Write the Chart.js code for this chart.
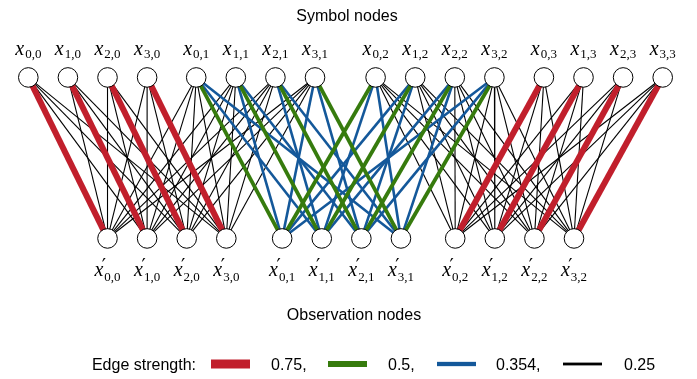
<!DOCTYPE html>
<html>
<head>
<meta charset="utf-8">
<script src="https://cdn.jsdelivr.net/npm/chart.js@4.4.1/dist/chart.umd.min.js"></script>
<style>
  html, body { margin: 0; padding: 0; background: #fff; }
  #wrap { width: 697px; height: 379px; }
</style>
</head>
<body>
<div id="wrap"><canvas id="graph" width="697" height="379"></canvas></div>
<script>
// where each group of 4 nodes starts, in units of node spacing
const symbolGroupStart = [0, 4.24, 8.77, 13.02];
const observationGroupStart = [2, 6.41, 10.78];
const nodesPerGroup = 4;

// edge weights: rows = symbol node i, columns = observation node k (0 = no edge)
const weightsS0O0 = [
  [0.75, 0.25, 0.25, 0.25],
  [0.25, 0.75, 0.25, 0.25],
  [0.25, 0.25, 0.75, 0.25],
  [0.25, 0.25, 0.25, 0.75]
];
const weightsS1O0 = [
  [0.25, 0.25, 0.25, 0.25],
  [0.25, 0.25, 0.25, 0.25],
  [0.25, 0.25, 0.25, 0.25],
  [0.25, 0.25, 0.25, 0.25]
];
const weightsS1O1 = [
  [0.5, 0.354, 0, 0.354],
  [0.354, 0.5, 0.354, 0],
  [0, 0.354, 0.5, 0.354],
  [0.354, 0, 0.354, 0.5]
];
const weightsS2O1 = [
  [0.5, 0.354, 0, 0.354],
  [0.354, 0.5, 0.354, 0],
  [0, 0.354, 0.5, 0.354],
  [0.354, 0, 0.354, 0.5]
];
const weightsS2O2 = [
  [0.25, 0.25, 0.25, 0.25],
  [0.25, 0.25, 0.25, 0.25],
  [0.25, 0.25, 0.25, 0.25],
  [0.25, 0.25, 0.25, 0.25]
];
const weightsS3O2 = [
  [0.75, 0.25, 0.25, 0.25],
  [0.25, 0.75, 0.25, 0.25],
  [0.25, 0.25, 0.75, 0.25],
  [0.25, 0.25, 0.25, 0.75]
];

const strengthLevels = [0.75, 0.5, 0.354, 0.25];
const strengthLabels = ["0.75,", "0.5,", "0.354,", "0.25"];
const strengthColors = ["#c11f2c", "#367b0d", "#14589a", "#000000"];
const strengthWidths = [6, 3.8, 2.6, 1.1];
const legendSwatchHeights = [9, 6, 4.3, 2.8];

// [symbol group, observation group, weights]
const edgeBlocks = [
  [0, 0, weightsS0O0],
  [1, 0, weightsS1O0],
  [1, 1, weightsS1O1],
  [2, 1, weightsS2O1],
  [2, 2, weightsS2O2],
  [3, 2, weightsS3O2]
];

const SYMBOL_ROW = 1;
const OBS_ROW = 0;

function symbolX(group, i) { return symbolGroupStart[group] + i; }
function obsX(group, k) { return observationGroupStart[group] + k; }

// build one line dataset per edge
const datasets = [];
edgeBlocks.forEach(([sg, og, w]) => {
  for (let i = 0; i < nodesPerGroup; i++) {
    for (let k = 0; k < nodesPerGroup; k++) {
      const level = strengthLevels.indexOf(w[i][k]);
      if (level < 0) continue;
      datasets.push({
        data: [{ x: symbolX(sg, i), y: SYMBOL_ROW }, { x: obsX(og, k), y: OBS_ROW }],
        showLine: true,
        borderColor: strengthColors[level],
        borderWidth: strengthWidths[level],
        pointRadius: 0,
        order: level + 1
      });
    }
  }
});

// nodes on top of the edges
const nodePoints = [];
symbolGroupStart.forEach((s, g) => {
  for (let i = 0; i < nodesPerGroup; i++) nodePoints.push({ x: symbolX(g, i), y: SYMBOL_ROW });
});
observationGroupStart.forEach((s, g) => {
  for (let k = 0; k < nodesPerGroup; k++) nodePoints.push({ x: obsX(g, k), y: OBS_ROW });
});
datasets.push({
  data: nodePoints,
  showLine: false,
  pointRadius: 9.8,
  pointBackgroundColor: "#ffffff",
  pointBorderColor: "#000000",
  pointBorderWidth: 1,
  order: 0
});

const mathFont = "'Liberation Serif', 'DejaVu Serif', serif";
const textFont = "'Liberation Sans', Arial, sans-serif";

function drawMathLabel(ctx, cx, baseY, sub, prime) {
  ctx.font = "italic 20px " + mathFont;
  const wx = ctx.measureText("x").width;
  ctx.font = "13px " + mathFont;
  const ws = ctx.measureText(sub).width;
  const left = cx - (wx + 1 + ws) / 2;
  ctx.font = "italic 20px " + mathFont;
  ctx.fillText("x", left, baseY);
  ctx.font = "13px " + mathFont;
  if (prime) {
    ctx.fillText(sub, left + wx + 1, baseY + 5);
    ctx.font = "19px 'DejaVu Serif', serif";
    ctx.fillText("\u2032", left + wx - 1.5, baseY - 4);
  } else {
    ctx.fillText(sub, left + wx + 1, baseY + 3);
  }
}

const labelPlugin = {
  id: "graphText",
  afterDatasetsDraw(chart) {
    const ctx = chart.ctx;
    const xs = chart.scales.x, ys = chart.scales.y;
    ctx.save();
    ctx.fillStyle = "#000";
    ctx.textBaseline = "alphabetic";
    ctx.textAlign = "left";

    // node labels
    const topY = ys.getPixelForValue(SYMBOL_ROW);
    const botY = ys.getPixelForValue(OBS_ROW);
    symbolGroupStart.forEach((s, g) => {
      for (let i = 0; i < nodesPerGroup; i++) {
        drawMathLabel(ctx, xs.getPixelForValue(symbolX(g, i)), topY - 22.5, i + "," + g, false);
      }
    });
    observationGroupStart.forEach((s, g) => {
      for (let k = 0; k < nodesPerGroup; k++) {
        drawMathLabel(ctx, xs.getPixelForValue(obsX(g, k)), botY + 37.5, k + "," + g, true);
      }
    });

    // headings
    ctx.font = "16px " + textFont;
    ctx.textAlign = "center";
    ctx.fillText("Symbol nodes", 347, 20.5);
    ctx.fillText("Observation nodes", 354, 320);

    // legend
    const ly = 364;
    ctx.textAlign = "right";
    ctx.fillText("Edge strength:", 196, ly + 5.5);
    ctx.textAlign = "left";
    const swatchLeft = [211, 328, 437, 563];
    const labelLeft = [271, 388, 496, 624];
    strengthLevels.forEach((v, n) => {
      ctx.fillStyle = strengthColors[n];
      const h = legendSwatchHeights[n];
      ctx.fillRect(swatchLeft[n], ly - h / 2, 39, h);
      ctx.fillStyle = "#000";
      ctx.fillText(strengthLabels[n], labelLeft[n], ly + 5.5);
    });
    ctx.restore();
  }
};

new Chart(document.getElementById("graph"), {
  type: "scatter",
  data: { datasets: datasets },
  options: {
    responsive: false,
    animation: false,
    events: [],
    layout: { padding: 0, autoPadding: false },
    plugins: { legend: { display: false }, tooltip: { enabled: false } },
    scales: {
      x: { type: "linear", display: false, min: -0.715, max: 16.886 },
      y: { type: "linear", display: false, min: -0.873, max: 1.481 }
    }
  },
  plugins: [labelPlugin]
});
</script>
</body>
</html>
